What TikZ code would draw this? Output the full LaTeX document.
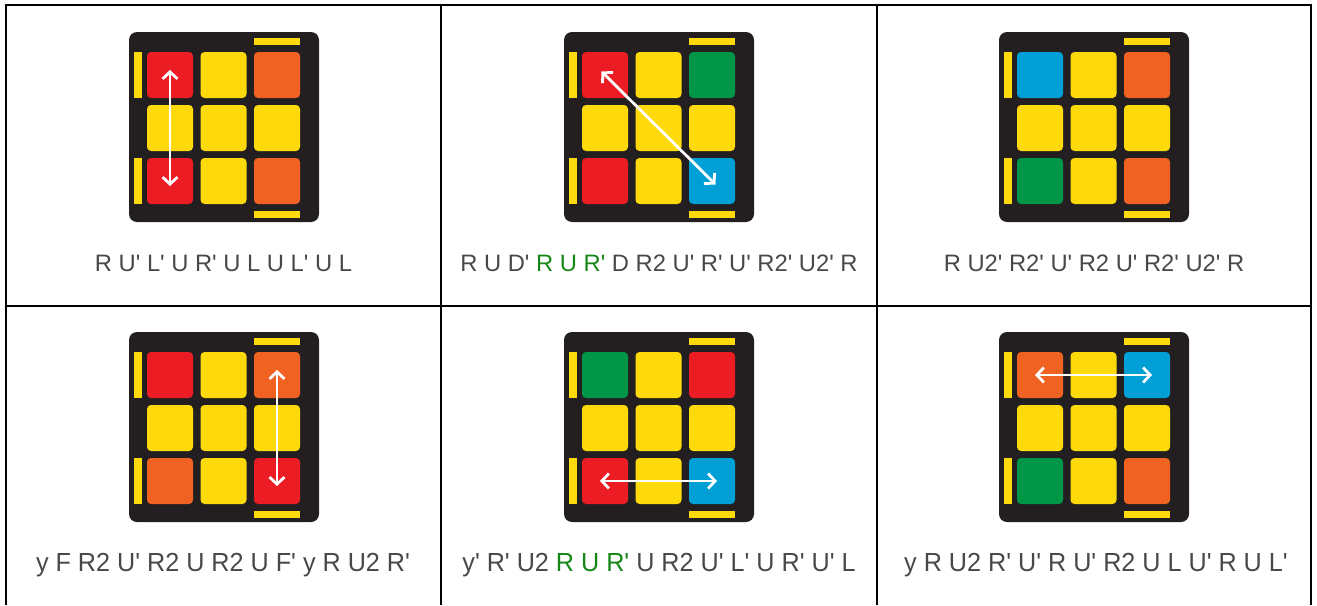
\documentclass[tikz,border=0pt]{standalone}
\usepackage{fontspec}
\newfontfamily\movefont{Liberation Sans}
\usetikzlibrary{arrows.meta}
\definecolor{cubeblack}{RGB}{35,31,32}
\definecolor{cred}{RGB}{236,28,36}
\definecolor{cyel}{RGB}{254,218,12}
\definecolor{corange}{RGB}{240,98,34}
\definecolor{cgreen}{RGB}{0,150,72}
\definecolor{cblue}{RGB}{0,160,214}
\definecolor{movegray}{RGB}{72,72,72}
\definecolor{movegreen}{RGB}{22,135,22}

\begin{document}
\begin{tikzpicture}[x=1pt, y=-1pt,
  sticker/.style={rectangle, rounded corners=4pt, minimum size=46pt, inner sep=0pt},
  sidebar/.style={fill=cyel},
  swaparrow/.style={white, line width=2.8pt, {Straight Barb[length=7pt,width=15pt]}-{Straight Barb[length=7pt,width=15pt]}, shorten <=-5pt, shorten >=-5pt},
  movetext/.style={font=\movefont\fontsize{23.75}{28}\selectfont, text=movegray, inner sep=0pt}]

  \useasboundingbox (0,0) rectangle (1317,605);

  % table lines
  \draw[line width=2pt] (6,605) -- (6,5) -- (1311,5) -- (1311,605);
  \draw[line width=2pt] (6,306) -- (1311,306);
  \foreach \x in {441, 877} \draw[line width=2pt] (\x,5) -- (\x,605);

  % the six top faces
  \foreach \n/\ox/\oy/\cols in {
      a/129/32/{cred,cyel,corange,cyel,cyel,cyel,cred,cyel,corange},
      b/564/32/{cred,cyel,cgreen,cyel,cyel,cyel,cred,cyel,cblue},
      c/999/32/{cblue,cyel,corange,cyel,cyel,cyel,cgreen,cyel,corange},
      d/129/332/{cred,cyel,corange,cyel,cyel,cyel,corange,cyel,cred},
      e/564/332/{cgreen,cyel,cred,cyel,cyel,cyel,cred,cyel,cblue},
      f/999/332/{corange,cyel,cblue,cyel,cyel,cyel,cgreen,cyel,corange}} {
    \fill[cubeblack, rounded corners=8pt] (\ox,\oy) rectangle ++(190,190);
    \fill[sidebar] (\ox+5,\oy+20) rectangle ++(8,46);
    \fill[sidebar] (\ox+5,\oy+126) rectangle ++(8,46);
    \fill[sidebar] (\ox+125,\oy+6) rectangle ++(46,7);
    \fill[sidebar] (\ox+125,\oy+179) rectangle ++(46,7);
    \foreach \fc [count=\i from 0] in \cols {
      \pgfmathtruncatemacro\rw{div(\i,3)+1}
      \pgfmathtruncatemacro\cl{mod(\i,3)+1}
      \node[sticker, fill=\fc] (\n-\rw\cl) at (\ox+41+53.5*\cl-53.5, \oy+43+53*\rw-53) {};
    }
  }

  % swaps
  \draw[swaparrow] (a-11.center) -- (a-31.center);
  \draw[swaparrow] (b-11.center) -- (b-33.center);
  \draw[swaparrow] (d-13.center) -- (d-33.center);
  \draw[swaparrow] (e-31.center) -- (e-33.center);
  \draw[swaparrow] (f-11.center) -- (f-13.center);

  % algorithms
  \node[movetext] (t-a) at (223.5,263) {R U' L' U R' U L U L' U L};
  \node[movetext] (t-b) at (659,263) {R U D' {\color{movegreen}R U R'} D R2 U' R' U' R2' U2' R};
  \node[movetext] (t-c) at (1094,263) {R U2' R2' U' R2 U' R2' U2' R};
  \node[movetext] (t-d) at (223,565) {\scalebox{1.06}[1.1]{y F R2 U' R2 U R2 U F' y R U2 R'}};
  \node[movetext] (t-e) at (659,565) {\scalebox{1.06}[1.1]{y' R' U2 {\color{movegreen}R U R'} U R2 U' L' U R' U' L}};
  \node[movetext] (t-f) at (1096,565) {\scalebox{1.06}[1.1]{y R U2 R' U' R U' R2 U L U' R U L'}};
\end{tikzpicture}
\end{document}
